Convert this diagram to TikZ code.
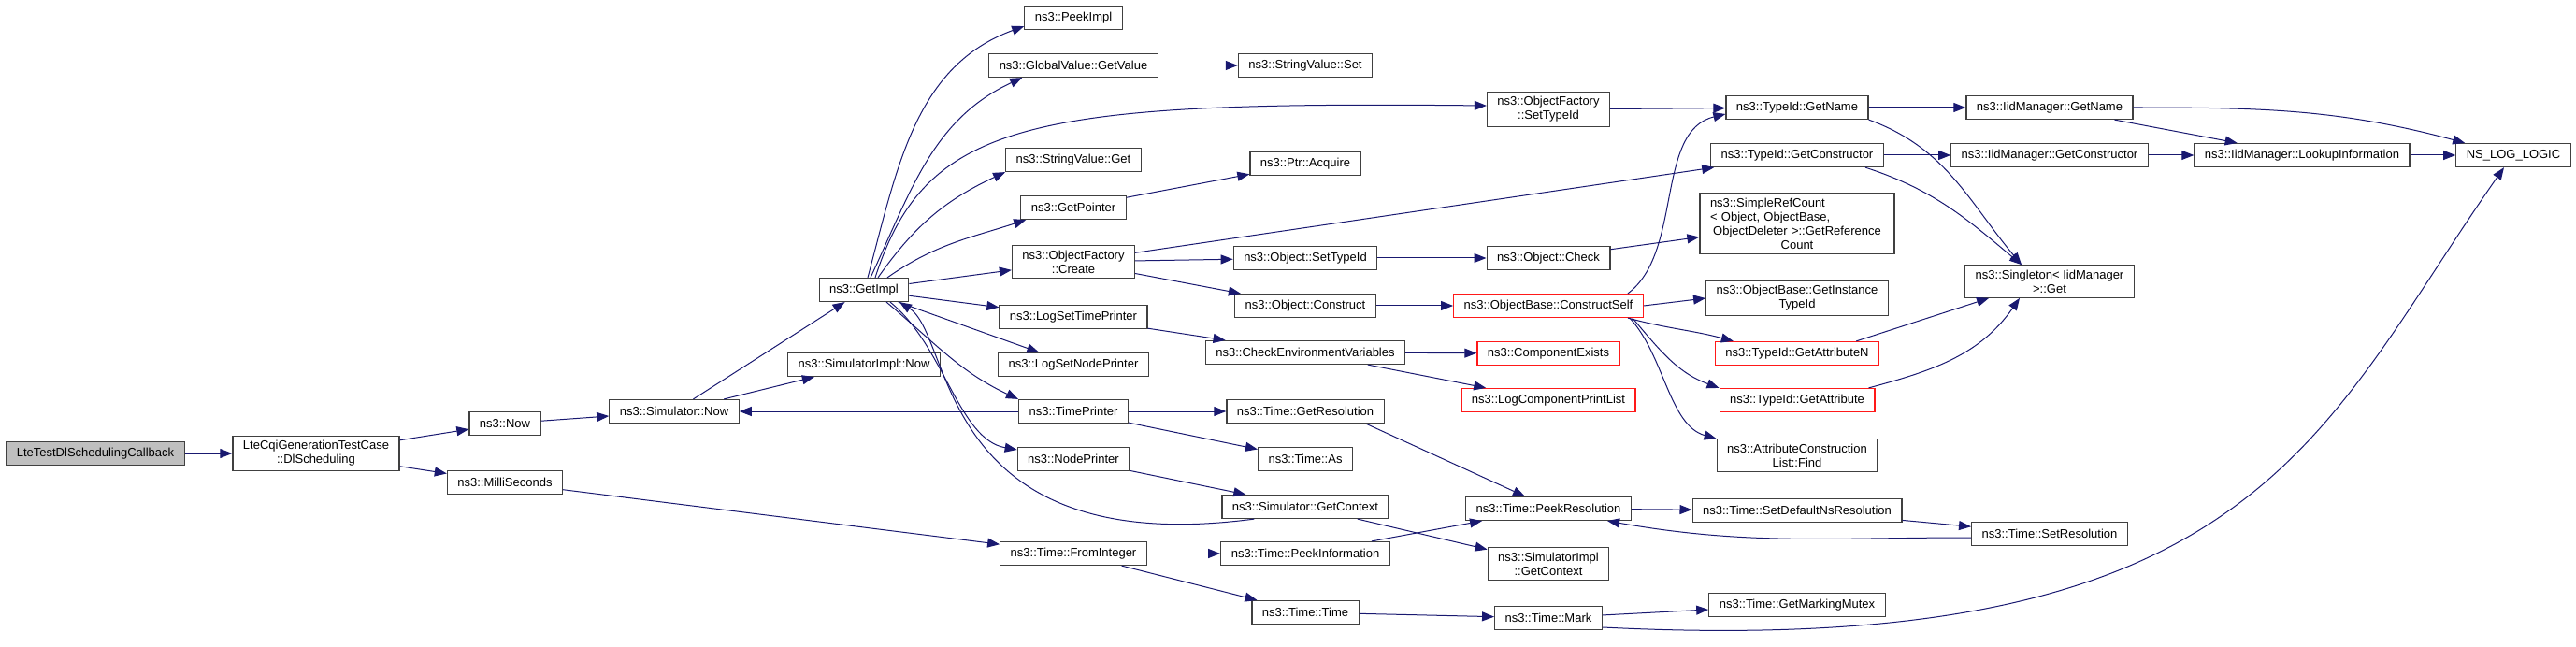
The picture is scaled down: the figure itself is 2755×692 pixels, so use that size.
\documentclass[tikz,border=0pt]{standalone}
\usepackage{fontspec}
\setmainfont{Liberation Sans}
\usetikzlibrary{arrows.meta}

\definecolor{edgeblue}{HTML}{191970}
\definecolor{rootgray}{HTML}{BFBFBF}

\tikzset{
  fn/.style={draw=black!75, line width=1.2pt, fill=white, align=center,
    font=\fontsize{13}{15}\selectfont, minimum height=25pt,
    inner xsep=11pt, inner ysep=5pt},
  rootfn/.style={fn, fill=rootgray},
  redfn/.style={fn, draw=red!90},
  call/.style={draw=edgeblue, line width=1pt, -{Triangle[length=13pt,width=10pt]}}
}

\begin{document}
\begin{tikzpicture}[x=1pt,y=-1pt]
\useasboundingbox (0,0) rectangle (2755,692);
% functions
\node[rootfn] (cb) at (102,485) {LteTestDlSchedulingCallback};
\node[fn] (dls) at (338,485) {LteCqiGenerationTestCase\\::DlScheduling};
\node[fn] (now) at (540,453) {ns3::Now};
\node[fn] (milli) at (540,516) {ns3::MilliSeconds};
\node[fn] (simnow) at (721,440) {ns3::Simulator::Now};
\node[fn] (implnow) at (924,390) {ns3::SimulatorImpl::Now};
\node[fn] (getimpl) at (924,310) {ns3::GetImpl};
\node[fn] (peekimpl) at (1148,19) {ns3::PeekImpl};
\node[fn] (getvalue) at (1148,70) {ns3::GlobalValue::GetValue};
\node[fn] (svget) at (1148,171) {ns3::StringValue::Get};
\node[fn] (getptr) at (1148,222) {ns3::GetPointer};
\node[fn] (ofcreate) at (1148,280) {ns3::ObjectFactory\\::Create};
\node[fn] (logtime) at (1148,339) {ns3::LogSetTimePrinter};
\node[fn] (lognode) at (1148,390) {ns3::LogSetNodePrinter};
\node[fn] (tprint) at (1148,440) {ns3::TimePrinter};
\node[fn] (nprint) at (1148,491) {ns3::NodePrinter};
\node[fn] (fromint) at (1148,592) {ns3::Time::FromInteger};
\node[fn] (svset) at (1396,70) {ns3::StringValue::Set};
\node[fn] (acquire) at (1396,175) {ns3::Ptr::Acquire};
\node[fn] (osettid) at (1396,276) {ns3::Object::SetTypeId};
\node[fn] (oconstr) at (1396,327) {ns3::Object::Construct};
\node[fn] (checkenv) at (1396,377) {ns3::CheckEnvironmentVariables};
\node[fn] (getres) at (1396,440) {ns3::Time::GetResolution};
\node[fn] (timeas) at (1396,491) {ns3::Time::As};
\node[fn] (simctx) at (1396,542) {ns3::Simulator::GetContext};
\node[fn] (peekinfo) at (1396,592) {ns3::Time::PeekInformation};
\node[fn] (ttime) at (1396,655) {ns3::Time::Time};
\node[fn] (ofsettid) at (1656,117) {ns3::ObjectFactory\\::SetTypeId};
\node[fn] (ocheck) at (1656,276) {ns3::Object::Check};
\node[redfn] (cself) at (1656,327) {ns3::ObjectBase::ConstructSelf};
\node[redfn] (compex) at (1656,378) {ns3::ComponentExists};
\node[redfn] (logcomp) at (1656,428) {ns3::LogComponentPrintList};
\node[fn] (peekres) at (1656,544) {ns3::Time::PeekResolution};
\node[fn] (implctx) at (1656,603) {ns3::SimulatorImpl\\::GetContext};
\node[fn] (mark) at (1656,661) {ns3::Time::Mark};
\node[fn] (tidname) at (1922,115) {ns3::TypeId::GetName};
\node[fn] (tidctor) at (1922,166) {ns3::TypeId::GetConstructor};
\node[fn, text width=186pt] (refcnt) at (1922,239)
  {\makebox[\hsize][l]{ns3::SimpleRefCount}\\\makebox[\hsize][l]{< Object, ObjectBase,}\\ObjectDeleter >::GetReference\\Count};
\node[fn] (insttid) at (1922,319) {ns3::ObjectBase::GetInstance\\TypeId};
\node[redfn] (attrn) at (1922,378) {ns3::TypeId::GetAttributeN};
\node[redfn] (attr) at (1922,428) {ns3::TypeId::GetAttribute};
\node[fn] (acfind) at (1922,487) {ns3::AttributeConstruction\\List::Find};
\node[fn] (setdef) at (1922,546) {ns3::Time::SetDefaultNsResolution};
\node[fn] (mutex) at (1922,647) {ns3::Time::GetMarkingMutex};
\node[fn] (iidname) at (2192,115) {ns3::IidManager::GetName};
\node[fn] (iidctor) at (2192,166) {ns3::IidManager::GetConstructor};
\node[fn] (single) at (2192,301) {ns3::Singleton< IidManager\\>::Get};
\node[fn] (setres) at (2192,571) {ns3::Time::SetResolution};
\node[fn] (lookup) at (2462,166) {ns3::IidManager::LookupInformation};
\node[fn] (nslog) at (2688,166) {NS\_LOG\_LOGIC};
% calls
\draw[call] (cb) -- (dls);
\draw[call] (dls) -- (now);
\draw[call] (dls) -- (milli);
\draw[call] (now) -- (simnow);
\draw[call] (simnow) -- (getimpl);
\draw[call] (simnow) -- (implnow);
\draw[call] (milli) -- (fromint);
% GetImpl
\draw[call] ([xshift=4pt]getimpl.north) to[out=75,in=200] ([yshift=4pt]peekimpl.south west);
\draw[call] ([xshift=7pt]getimpl.north) to[out=65,in=205] ([xshift=36pt]getvalue.south west);
\draw[call] ([xshift=12pt]getimpl.north) .. controls (990,130) and (1100,108) .. ([yshift=4pt]ofsettid.west);
\draw[call] ([xshift=15pt]getimpl.north) to[out=55,in=205] (svget.south west);
\draw[call] ([xshift=25pt]getimpl.north) to[out=35,in=198] ([xshift=6pt]getptr.south west);
\draw[call] (getimpl) -- (ofcreate);
\draw[call] (getimpl) -- (logtime);
\draw[call] (getimpl) -- (lognode);
\draw[call] ([xshift=24pt]getimpl.south) to[out=-40,in=155] (tprint.north west);
\draw[call] ([xshift=28pt]getimpl.south) .. controls (1010,370) and (1025,470) .. ([yshift=10pt]nprint.west);
\draw[call] ([xshift=35pt]simctx.south west) .. controls (1000,600) and (1020,360) .. ([xshift=38pt]getimpl.south);
\draw[call] (tprint) -- (simnow);
\draw[call] (tprint) -- (getres);
\draw[call] (tprint) -- (timeas);
\draw[call] (nprint) -- (simctx);
\draw[call] (getvalue) -- (svset);
\draw[call] (getptr) -- (acquire);
\draw[call] (ofcreate) -- (tidctor);
\draw[call] (ofcreate) -- (osettid);
\draw[call] (ofcreate) -- (oconstr);
\draw[call] (ofsettid) -- (tidname);
\draw[call] (osettid) -- (ocheck);
\draw[call] (ocheck) -- (refcnt);
\draw[call] (oconstr) -- (cself);
\draw[call] (logtime) -- (checkenv);
\draw[call] (checkenv) -- (compex);
\draw[call] (checkenv) -- (logcomp);
% ConstructSelf
\draw[call] ([xshift=-17pt]cself.north east) .. controls (1800,270) and (1770,140) .. ([yshift=-7pt]tidname.west);
\draw[call] (cself.east) -- (insttid.west);
\draw[call] ([xshift=-17pt]cself.south east) to[out=-15,in=165] ([xshift=20pt]attrn.north west);
\draw[call] ([xshift=-12pt]cself.south east) to[out=-50,in=160] (attr.north west);
\draw[call] ([xshift=-15pt]cself.south east) .. controls (1780,380) and (1785,455) .. (acfind.north west);
% Time
\draw[call] ([xshift=-20pt]getres.south east) -- ([xshift=-25pt]peekres.north);
\draw[call] (simctx) -- (implctx);
\draw[call] (fromint) -- (peekinfo);
\draw[call] (fromint) -- (ttime);
\draw[call] (peekinfo) -- (peekres);
\draw[call] (ttime) -- (mark);
\draw[call] (mark) -- (mutex);
\draw[call] ([yshift=-10pt]mark.east) .. controls (2415,706) and (2478,465) .. ([xshift=-10pt]nslog.south);
\draw[call] (peekres) -- (setdef);
\draw[call] (setdef) -- (setres);
\draw[call] ([yshift=-4pt]setres.west) to[out=180,in=-10] ([xshift=-26pt]peekres.south east);
% TypeId and IidManager
\draw[call] (tidname) -- (iidname);
\draw[call] (tidname.south east) to[out=-20,in=130] ([xshift=-30pt]single.north);
\draw[call] (tidctor) -- (iidctor);
\draw[call] ([xshift=-20pt]tidctor.south east) to[out=-18,in=140] ([xshift=-30pt]single.north);
\draw[call] ([xshift=-25pt]attrn.north east) -- ([xshift=26pt]single.south west);
\draw[call] ([xshift=-7pt]attr.north east) to[out=15,in=235] ([xshift=-32pt]single.south);
\draw[call] (iidname) -- (lookup);
\draw[call] (iidname.east) to[out=0,in=165] ([xshift=10pt]nslog.north west);
\draw[call] (iidctor) -- (lookup);
\draw[call] (lookup) -- (nslog);
\end{tikzpicture}
\end{document}
